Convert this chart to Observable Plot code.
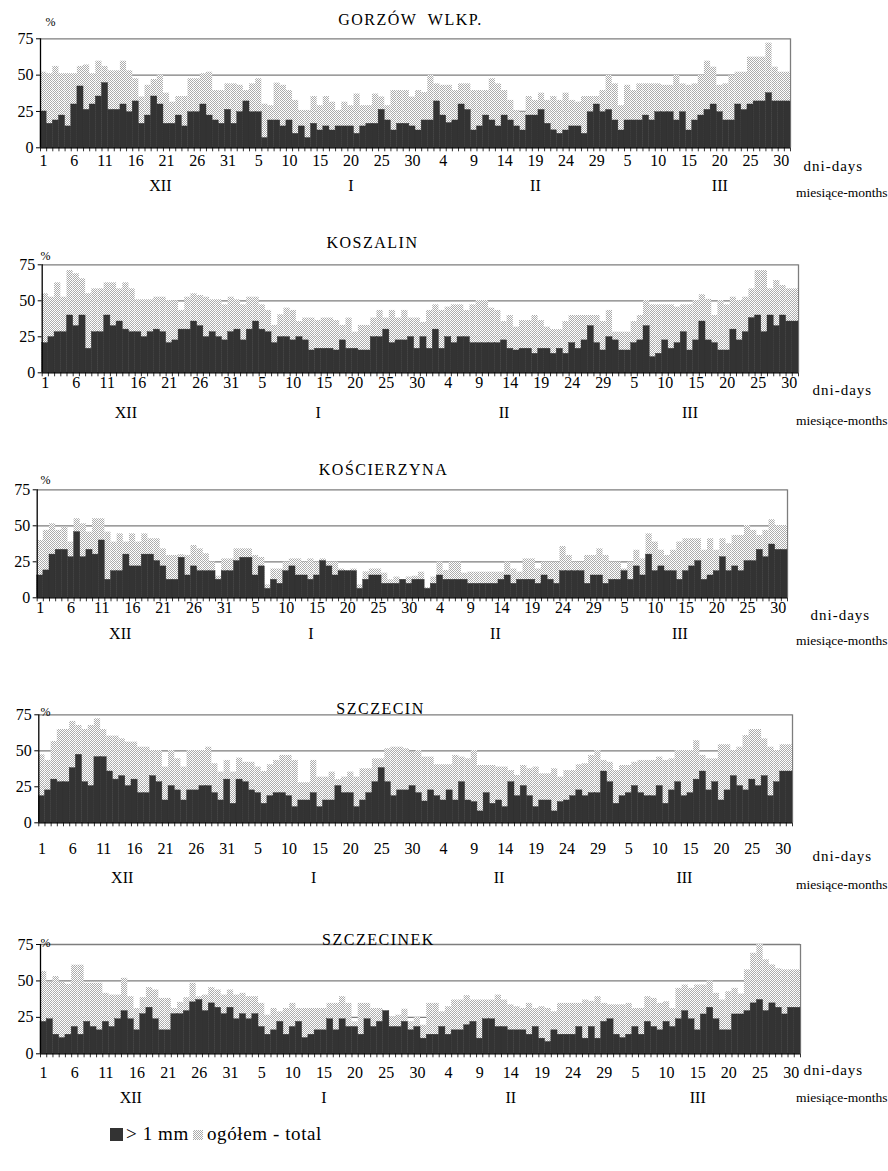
<!DOCTYPE html>
<html><head><meta charset="utf-8">
<script src="https://cdn.jsdelivr.net/npm/d3@7"></script>
<script src="https://cdn.jsdelivr.net/npm/@observablehq/plot@0.6"></script>
<style>
body{margin:0;background:#fff;}
#chart{position:relative;width:888px;height:1171px;font-family:'Liberation Serif','Times New Roman',serif;color:#000;overflow:hidden;}
#chart svg{position:absolute;left:0;}
.lg{position:absolute;font-size:19px;line-height:20px;letter-spacing:0.6px;}
</style></head><body><div id="chart"></div>
<script>
// ---------- data ----------
const monthNames = ["XII", "I", "II", "III"];
const monthLengths = [31, 31, 29, 31];
const tickLabels = ["1","6","11","16","21","26","31","5","10","15","20","25","30","4","9","14","19","24","29","5","10","15","20","25","30"];
const stations = ["GORZÓW  WLKP.", "KOSZALIN", "KOŚCIERZYNA", "SZCZECIN", "SZCZECINEK"];
const legendLabels = ["> 1 mm", "ogółem - total"];

const gorzowOver1mm = [25,16.5,18.8,22.2,14.7,29.8,42.2,26.1,29.8,35.3,44.5,26.1,26.1,29.8,24.5,31.9,16.5,22.2,35.3,29.8,16.5,16.5,22.2,14.7,24.5,24.5,29.8,22.2,18.8,16.5,26.1,16.5,24.5,31.9,24.5,24.5,6.7,18.8,18.8,14.7,18.8,9.6,14.7,6.7,16.5,11.9,14.7,11.9,14.7,14.7,14.7,9.6,14.7,16.5,16.5,26.1,18.8,11.9,16.5,16.5,14.7,11.9,18.8,18.8,31.9,22.2,17,18.8,29.8,26,11.9,14.7,22.2,18.8,14.7,22.2,18.8,14.7,11.9,22.2,22.2,26,16.5,12,9.6,11.9,14.7,14.7,9.6,24.5,29.8,24.5,26,18.8,11.9,18.8,18.8,18.8,22.2,18.8,24.5,24.5,24.5,18.8,24.5,11.9,18.8,22.2,26.1,29.8,24.5,18.8,18.8,29.8,26,29.8,31.9,31.9,37.6,31.9,31.9,31.9];
const gorzowTotal = [52,51,56,51,51,51,56,57,51,59.6,56,53,53,59.6,53,47.5,35,43,47,50,37.6,31.4,35.3,35.3,47.5,47.5,51,52,39.4,39.4,44,44,43,39.4,44,47.5,30,29,44.5,43,39.4,32.6,25.7,25.7,35.3,29,35.3,31.4,25.7,31.4,29,37,29,29,37,35,29,39.4,39.4,39.4,34.9,39.4,38,49.8,44,43,43,39.4,44,44,39.4,39.4,39.4,47.5,44,39.4,32.6,25.7,24.5,35.3,32.6,37.6,32.6,35.3,32.6,37.6,32.6,31.4,35.3,35.3,35.3,39.4,49.8,44,29,43,39.4,44,44,44,44,43,43,49.8,44,43,44,49.8,59.6,55.5,43,44,49.8,52,52,62.4,62.4,62.4,72,55.5,52,52];

const koszalinOver1mm = [20.6,24.8,28.2,28.2,39.8,32.4,39.8,16.7,28.2,28.2,39.8,32.4,35.6,30,28.2,28.2,24.8,28.2,30,28.2,20.6,22.5,30,30,35.6,32.4,24.8,28.2,24.8,22.5,28.2,30,22.5,30,35.6,30,28.2,20.6,24.8,24.8,22.5,24.8,22.5,15.5,16.7,16.7,16.7,15.5,22.5,16.7,16.7,15.5,15.5,24.8,24.8,30,20.6,22.5,22.5,24.8,16.7,24.8,16.7,30,16.7,24.8,20.6,24.8,24.8,20.6,20.6,20.6,20.6,20.6,22.5,16.7,15.5,16.7,16.7,13.2,16.7,16.7,13.2,16.7,13.2,20.6,16.7,22.5,32.4,20.6,15.5,24.8,22.5,15.5,15.5,20.6,22.5,32.4,10.9,13.2,22.5,16.7,20.6,28.2,15.5,22.5,35.6,22.5,20.6,15.5,15.5,30,22.5,28.2,38,39.8,28.2,39.8,32.4,39.8,35.6,35.6];
const koszalinTotal = [54.9,52.5,62.5,52.5,71,68.8,65.3,54.9,58.3,58.3,62.5,62.5,58.3,62.5,58.3,50.7,50.7,50.7,52.5,52.5,50.2,50,43.3,52.5,54.9,53.7,52.5,50.7,50.7,47.2,52.5,50.7,47.2,52.5,52.5,47.2,43.3,32.9,40.3,44.9,43.3,35.6,38,38,36.3,38,38,36.3,32.9,38,28.2,32.9,32.9,38,43.3,38,43.3,38,43.3,38,38,35,43.3,47.2,43.3,45.6,47.2,47.2,43.3,47.2,50.2,50.2,44.9,43.3,35.6,39.8,31.7,36.3,36.3,39.8,36.3,31.7,30,30,35.6,39.8,39.8,39.8,39.8,39.8,35.6,43.3,28.2,28.2,28.2,35.6,39.8,50.2,47.2,47.2,47.2,47.2,45.6,47.2,47.2,50.2,54.2,51,39.8,50.2,47.2,52.5,50.2,52.5,58.3,71,71,58.3,64.1,60.6,58.3,58.3];

const koscierzynaOver1mm = [15.5,19,30,33.3,33.3,28.2,45.6,28.2,33.3,30,39.8,12.5,18.5,18.5,30,21.8,21.8,30,30,25.5,21.8,12.5,12.5,27.8,15.5,21.8,18.5,18.5,18.5,12.5,18.5,18.5,25.5,27.8,27.8,15.5,21.8,6.2,12.5,9.7,18.5,21.8,15.5,15.5,12.5,15.5,25.5,21.8,15.5,18.5,18.5,18.5,6.2,12.5,15.5,15.5,9.7,9.7,9.7,12.5,9.7,12.5,12.5,6.2,9.7,15.5,12.5,12.5,12.5,12.5,9.7,9.7,9.7,9.7,9.7,12.5,15.5,9.7,12.5,12.5,12.5,9.7,15.5,12.5,9.7,18.5,18.5,18.5,18.5,9.7,15.5,15.5,9.7,12.5,12.5,18.5,12.5,21.8,15.5,30,18.5,21.8,18.5,18.5,12.5,18.5,21.8,25.5,12.5,15.5,18.5,28.2,18.5,21.8,18.5,25.5,25.5,33.3,28.2,37,33.3,33.3];
const koscierzynaTotal = [39.8,46.8,51.4,46.8,49,38.7,54.9,51.4,45.6,54.9,54.9,45.6,38.7,44.4,38.7,44.4,38.7,44.4,41,41,34,29.4,29.4,30,29.4,36.3,34,30.6,24.8,15,27,27,34,34,34,29.4,28,9,20,20,24.8,27,27,24.8,27,24.8,27,24.8,24.8,20,19,20,9,18,20,20,17.1,12.5,14.4,12.5,14.4,15,17.8,7,14.4,24.8,19,24.8,24.8,17.1,17.8,17.8,17.8,17.8,17.8,17.8,24.8,20,17.8,27,27,20,24.8,24.8,24.8,35.6,29.4,24.8,24.8,29.4,29.4,34,29.4,24.8,24.8,20,24.8,33,27,44.4,38.7,33,29.4,33,38.7,41,41,41,33,41,33,41,37.5,43.3,43.3,50.2,46.8,43.3,46.8,54.2,50.2,50.2];

const szczecinOver1mm = [18.5,22.5,30,28.2,28.2,38,47.2,28.2,25.5,45.6,45.6,35.6,30,32.4,25.5,30,20.6,20.6,32.4,28.2,15.5,25.5,22.5,15.5,22.5,22.5,25.5,25.5,20.6,15.5,30,13.2,30,28.2,22.5,20.6,13.2,18.5,20.6,20.6,18.5,10.9,15.5,15.5,20.6,10.9,15.5,15.5,25.5,20.6,20.6,10.9,15.5,20.6,28.2,38,28.2,18.5,22.5,22.5,25.5,20.6,14.8,22.5,18.5,15.5,22.5,15.5,28.2,15.5,14.4,7.9,20.6,13.2,15.5,10.9,28.2,18.5,25.5,18.5,10.9,15.5,15.5,7.9,14.4,15.5,18.5,22.5,18.5,20.6,20.6,35.6,28.2,13.2,18.5,20.6,25.5,20.6,18.5,18.5,25.5,13.2,22.5,28.2,18.5,20.6,30,35.6,22.5,28.2,15.5,22.5,32.4,25.5,22.5,30,25.5,32.4,18.5,28.2,35.6,35.6];
const szczecinTotal = [47.2,43.3,56.5,64.8,64.8,70.4,67.6,64.8,67.6,72.2,64.8,60.2,60.2,58.3,56,56,52.5,52.5,50.2,50.2,38.7,50.2,44.4,38.7,50.2,50.2,50.2,52.5,41,35.2,43.3,35.2,44.9,42,42,38.7,35.6,40.3,43.3,46.8,46.8,43.3,27.8,27.8,43.3,31.7,31.7,35.2,30,31.7,35.2,31.7,37.5,37.5,44.4,44.4,51.4,52.5,52.5,51.4,49,50.2,45.6,45.6,40.3,40.3,40.3,46.8,45.6,44.4,50.2,39.8,39.8,39.8,38.7,38.7,36.3,32.9,39.8,37.5,38.7,34,34,37.5,31.7,36.3,36.3,40.3,41,46.8,50.2,43.3,42,36.3,39.8,39.8,42,43.3,43.3,43.3,45.6,43.3,44.4,50.2,50.2,50.2,57,46.8,44.4,44.4,54.2,54.2,50.2,52.5,60.6,64.8,64.8,58.3,52.5,50.2,54.2,54.2];

const szczecinekOver1mm = [21.9,23.7,13.1,10.8,13.1,18.4,13.1,21.9,18.4,16.1,21.9,18.4,23.7,29.3,23.7,16.1,27.2,31.6,23.7,16.1,16.1,27.2,27.2,29.3,35.3,36.9,29.3,34.6,31.6,27.2,31.6,23.7,27.2,23.7,27.2,18.4,13.1,16.1,21.9,13.1,18.4,21.9,10.8,13.1,16.1,16.1,23.7,16.1,23.7,18.4,18.4,13.1,23.7,18.4,21.9,29.3,18.4,18.4,21.9,16.1,18.4,10.4,13.1,13.1,18.4,13.1,16.1,16.1,19.6,21.9,10.4,23.7,23.7,18.4,18.4,16.1,16.1,16.1,13.1,18.4,10.4,8.1,16.1,13.1,13.1,13.1,18.4,10.4,18.4,10.4,21.9,23.7,13.1,10.8,13.1,18.4,13.1,21.9,18.4,16.1,21.9,18.4,23.7,29.3,23.7,16.1,27,31.6,23.7,16.1,16.1,27,27,29.3,34.6,36.9,29.3,34.6,31.6,27,31.6,31.6];
const szczecinekTotal = [56.5,49.1,53,49.1,47.7,60.8,60.8,48.4,48.4,48.4,41.5,40.3,40.3,51.8,39.2,31.1,38.5,45.4,43.8,38,38,31.1,35.3,38.5,48.4,39.2,40.3,45.4,43.8,40.3,43.8,40.3,41.5,39.2,39.2,34.6,26.5,31.1,28.8,31.1,34.6,31.1,31.1,31.1,31.1,31.1,34.6,34.6,39.2,34.6,21.9,34.6,34.6,31.1,31.1,29.3,25.3,26.5,30.6,22,25,19.6,34.6,34.6,28.8,32.3,36.9,36.9,39.9,36.9,36.9,36.9,36.9,40.3,36.9,33.6,32.3,31.1,34.6,31.1,32.3,31.1,28.8,34.6,34.6,34.6,34.6,36.9,36,39.2,34.6,33.6,33.6,33.6,34.6,31.1,31.1,39.2,38,34.6,35.7,31.1,44.9,47.2,44.9,47.2,47.2,50,41.5,36.9,42.6,44.9,41,57.6,69,75,64.5,61,58.3,57.6,57.6,57.6];

const over1mm = [gorzowOver1mm, koszalinOver1mm, koscierzynaOver1mm, szczecinOver1mm, szczecinekOver1mm];
const totals = [gorzowTotal, koszalinTotal, koscierzynaTotal, szczecinTotal, szczecinekTotal];

// ---------- layout (page pixels) ----------
const layout = [
  {top:0,   h:225, left:40,   right:790, mt:38.3, zero:147.3, titleX:410, titleY:13,  pctX:50, pctY:17,  tickY:160,  daysY:160,  monthY:185,  monthsY:187, daysX:803, shift:4},
  {top:225, h:225, left:41.7, right:798, mt:39.3, zero:372.3, titleX:372, titleY:236, pctX:45, pctY:251, tickY:382,  daysY:384,  monthY:412,  monthsY:415, daysX:812, shift:-2},
  {top:450, h:225, left:36.7, right:787, mt:39.3, zero:597.3, titleX:383, titleY:463, pctX:45, pctY:475, tickY:607,  daysY:609,  monthY:633,  monthsY:635, daysX:810, shift:-2},
  {top:675, h:225, left:38.3, right:792, mt:39.3, zero:822.3, titleX:380, titleY:702, pctX:45, pctY:707, tickY:848,  daysY:850,  monthY:877,  monthsY:879, daysX:812, shift:-2},
  {top:905, h:200, left:40,   right:800, mt:39,   zero:1053.3,titleX:378, titleY:933, pctX:45, pctY:938, tickY:1072, daysY:1064, monthY:1097, monthsY:1092, daysX:803, shift:-1}
];

const nDays = d3.sum(monthLengths);
const days = d3.range(1, nDays + 1);
const monthStart = [0];
monthLengths.forEach((m, i) => monthStart.push(monthStart[i] + m));
const monthCenter = monthLengths.map((m, i) => monthStart[i] + m / 2 + 0.5);
const tickDays = tickLabels.map((_, i) => 1 + 5 * i);
const bounds = d3.range(0.5, nDays + 1, 1);

const chart = document.getElementById("chart");
const ns = "http://www.w3.org/2000/svg";
const serif = "'Liberation Serif', 'Times New Roman', serif";

stations.forEach((name, k) => {
  const L = layout[k];
  const rows = days.map((d, i) => ({day: d, over: over1mm[k][i], total: totals[k][i]}));
  const plotH = L.zero - L.top - L.mt;
  const tk = 4 * 75 / plotH;
  const at = (X, Y) => ({frameAnchor: "top-left", dx: X - L.left, dy: Y - (L.top + L.mt)});
  const svg = Plot.plot({
    width: 888,
    height: L.h,
    marginLeft: L.left,
    marginRight: 888 - L.right,
    marginTop: L.mt,
    marginBottom: L.h - (L.zero - L.top),
    style: {background: "transparent", fontFamily: serif, fontSize: "16px", color: "#000", overflow: "visible"},
    x: {domain: [0.5, nDays + 0.5], axis: null},
    y: {domain: [0, 75], ticks: [0, 25, 50, 75], tickSize: 4, tickPadding: 3, label: null},
    marks: [
      Plot.ruleY([25, 50, 75], {x1: 0.5, x2: nDays + 0.5, stroke: "#7d7d7d", strokeWidth: 1.3}),
      Plot.ruleX([nDays + 0.5], {y1: 0, y2: 75, stroke: "#7d7d7d", strokeWidth: 1.3}),
      Plot.rect(rows, {x1: d => d.day - 0.5, x2: d => d.day + 0.5, y1: 0, y2: "total", fill: `url(#dots${k})`}),
      Plot.rect(rows, {x1: d => d.day - 0.5, x2: d => d.day + 0.5, y1: 0, y2: "over", fill: "#333", stroke: "#333", strokeWidth: 0.4}),
      Plot.ruleY([0], {x1: 0.5, x2: nDays + 0.5, stroke: "#000", strokeWidth: 1.3}),
      Plot.ruleX([0.5], {y1: 0, y2: 75, stroke: "#000", strokeWidth: 1.3}),
      Plot.ruleX(bounds, {y1: 0, y2: -tk, stroke: "#000", strokeWidth: 0.8}),
      Plot.text(tickLabels, {x: (d, i) => tickDays[i], y: 0, dy: L.tickY - L.zero, text: d => d, fontSize: 16}),
      Plot.text(monthNames, {x: (d, i) => monthCenter[i] + L.shift, y: 0, dy: L.monthY - L.zero, text: d => d, fontSize: 16}),
      Plot.text([name], {...at(L.titleX, L.titleY), text: d => d, fontSize: 16, textAnchor: "middle"}),
      Plot.text(["%"], {...at(L.pctX, L.pctY), text: d => d, fontSize: 12, textAnchor: "middle"}),
      Plot.text(["dni-days"], {...at(L.daysX, L.daysY), text: d => d, fontSize: 15, textAnchor: "start"}),
      Plot.text(["miesiące-months"], {...at(887, L.monthsY), text: d => d, fontSize: 13.5, textAnchor: "end"})
    ]
  });
  const defs = document.createElementNS(ns, "defs");
  defs.innerHTML = `<pattern id="dots${k}" width="2" height="2" patternUnits="userSpaceOnUse"><rect width="2" height="2" fill="#ffffff"/><rect width="1" height="1" fill="#ababab"/><rect x="1" y="1" width="1" height="1" fill="#ababab"/></pattern>`;
  svg.insertBefore(defs, svg.firstChild);
  svg.querySelectorAll("text").forEach(t => {
    if (t.textContent === name) t.setAttribute("letter-spacing", "1.5");
    if (t.textContent === "dni-days") t.setAttribute("letter-spacing", "1");
  });
  svg.style.top = L.top + "px";
  chart.appendChild(svg);
});

// ---------- legend ----------
const lg = d3.select("#chart");
lg.append("div").style("position", "absolute").style("left", "110px").style("top", "1128px")
  .style("width", "13px").style("height", "13px").style("background", "#333");
lg.append("div").attr("class", "lg").style("left", "126px").style("top", "1124px").text(legendLabels[0]);
lg.append("div").style("position", "absolute").style("left", "193px").style("top", "1130px")
  .style("width", "10px").style("height", "10px")
  .style("background", "repeating-conic-gradient(#ababab 0 25%, #fff 0 50%) 0 0 / 2px 2px");
lg.append("div").attr("class", "lg").style("left", "207px").style("top", "1124px").text(legendLabels[1]);
</script>
</body></html>
